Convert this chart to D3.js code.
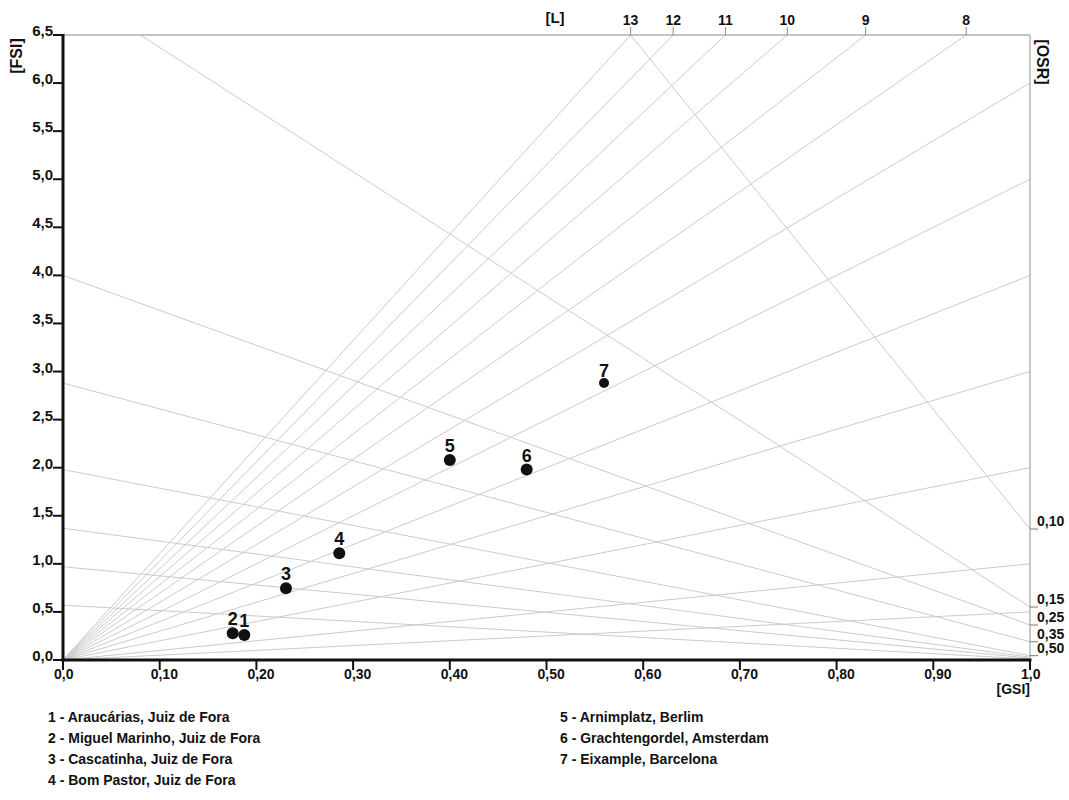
<!DOCTYPE html>
<meta charset="utf-8">
<script src="https://d3js.org/d3.v7.min.js"></script>
<style>
  body { margin: 0; background: #fff; }
  text { font-family: "Liberation Sans", Arial, sans-serif; font-weight: bold; fill: #111; }
</style>
<div id="my_dataviz"></div>
<script>

// ---- data ----
var fsiTicks = [0, 0.5, 1, 1.5, 2, 2.5, 3, 3.5, 4, 4.5, 5, 5.5, 6, 6.5];
var fsiTickLabels = ["0,0", "0,5", "1,0", "1,5", "2,0", "2,5", "3,0", "3,5", "4,0", "4,5", "5,0", "5,5", "6,0", "6,5"];
var gsiTicks = [0, 0.1, 0.2, 0.3, 0.4, 0.5, 0.6, 0.7, 0.8, 0.9, 1];
var gsiTickLabels = ["0,0", "0,10", "0,20", "0,30", "0,40", "0,50", "0,60", "0,70", "0,80", "0,90", "1,0"];

// layer rays (from origin) that hit the top edge
var layerLabels = ["13", "12", "11", "10", "9", "8"];
var layerTopGsi = [0.587, 0.631, 0.685, 0.749, 0.830, 0.934];
// layer rays (from origin) that hit the right edge (GSI = 1)
var edgeRayFsi = [6, 5, 4, 3, 2, 1, 0.5];

// OSR labels on the right edge
var osrLabels = ["0,10", "0,15", "0,25", "0,35", "0,50"];
var osrEdgeFsi = [1.362, 0.551, 0.364, 0.19, 0.045];

// descending OSR lines: start point (gsi, fsi) -> end fsi at GSI = 1
var osrStartGsi = [0.587, 0.08, 0, 0, 0, 0, 0, 0];
var osrStartFsi = [6.5, 6.5, 4.0, 2.88, 1.98, 1.37, 0.97, 0.57];
var osrEndFsi   = [1.362, 0.551, 0.364, 0.19, 0.045, 0.03, 0.02, 0.01];

// sites
var siteNums = ["1", "2", "3", "4", "5", "6", "7"];
var siteGsi = [0.1875, 0.1755, 0.2306, 0.2857, 0.400, 0.4795, 0.5595];
var siteFsi = [0.26, 0.278, 0.746, 1.11, 2.08, 1.98, 2.88];
var siteNames = ["Araucárias, Juiz de Fora", "Miguel Marinho, Juiz de Fora", "Cascatinha, Juiz de Fora",
                 "Bom Pastor, Juiz de Fora", "Arnimplatz, Berlim", "Grachtengordel, Amsterdam", "Eixample, Barcelona"];

// ---- svg ----
var W = 1069, H = 800;
var svg = d3.select("#my_dataviz").append("svg")
    .attr("width", W).attr("height", H);

var x = d3.scaleLinear().domain([0, 1]).range([63, 1030]);
var y = d3.scaleLinear().domain([0, 6.5]).range([660, 35]);

var grid = svg.append("g")
    .attr("stroke", "#cbcbcb")
    .attr("stroke-width", 1)
    .attr("fill", "none");

// rays to top
grid.selectAll(".rayTop")
  .data(layerTopGsi)
  .enter().append("line")
    .attr("x1", x(0)).attr("y1", y(0))
    .attr("x2", function(d) { return x(d); })
    .attr("y2", y(6.5));

// rays to right edge
grid.selectAll(".rayEdge")
  .data(edgeRayFsi)
  .enter().append("line")
    .attr("x1", x(0)).attr("y1", y(0))
    .attr("x2", x(1))
    .attr("y2", function(d) { return y(d); });

// OSR lines
grid.selectAll(".osr")
  .data(osrStartGsi)
  .enter().append("line")
    .attr("x1", function(d) { return x(d); })
    .attr("y1", function(d, i) { return y(osrStartFsi[i]); })
    .attr("x2", x(1))
    .attr("y2", function(d, i) { return y(osrEndFsi[i]); });

// top border + right border
svg.append("line")
    .attr("x1", x(0)).attr("x2", x(1))
    .attr("y1", y(6.5)).attr("y2", y(6.5))
    .attr("stroke", "#8c8c8c").attr("stroke-width", 1.2);
svg.append("line")
    .attr("x1", x(1)).attr("x2", x(1))
    .attr("y1", y(6.5)).attr("y2", y(0))
    .attr("stroke", "#b5b5b5").attr("stroke-width", 1.5);

// top L ticks and labels
var topAxis = svg.append("g");
topAxis.selectAll("line")
  .data(layerTopGsi)
  .enter().append("line")
    .attr("x1", function(d) { return x(d); })
    .attr("x2", function(d) { return x(d); })
    .attr("y1", y(6.5) - 8).attr("y2", y(6.5))
    .attr("stroke", "#8c8c8c");
topAxis.selectAll("text")
  .data(layerLabels)
  .enter().append("text")
    .attr("x", function(d, i) { return x(layerTopGsi[i]); })
    .attr("y", y(6.5) - 10)
    .attr("text-anchor", "middle")
    .style("font-size", "14px")
    .text(function(d) { return d; });
svg.append("text")
    .attr("x", 555).attr("y", 23)
    .attr("text-anchor", "middle")
    .style("font-size", "15px")
    .text("[L]");

// OSR ticks and labels on the right
var rightAxis = svg.append("g");
rightAxis.selectAll("line")
  .data(osrEdgeFsi)
  .enter().append("line")
    .attr("x1", x(1)).attr("x2", x(1) + 8)
    .attr("y1", function(d) { return y(d); })
    .attr("y2", function(d) { return y(d); })
    .attr("stroke", "#777");
rightAxis.selectAll("text")
  .data(osrLabels)
  .enter().append("text")
    .attr("x", x(1) + 7)
    .attr("y", function(d, i) { return y(osrEdgeFsi[i]) - 3; })
    .style("font-size", "14px")
    .text(function(d) { return d; });

// left axis
svg.append("line")
    .attr("x1", x(0)).attr("x2", x(0))
    .attr("y1", y(6.5) - 1).attr("y2", y(0) + 1.5)
    .attr("stroke", "#111").attr("stroke-width", 3);
var leftAxis = svg.append("g");
leftAxis.selectAll("line")
  .data(fsiTicks)
  .enter().append("line")
    .attr("x1", x(0) - 10).attr("x2", x(0))
    .attr("y1", function(d) { return y(d); })
    .attr("y2", function(d) { return y(d); })
    .attr("stroke", "#111").attr("stroke-width", 2);
leftAxis.selectAll("text")
  .data(fsiTickLabels)
  .enter().append("text")
    .attr("x", x(0) - 10)
    .attr("y", function(d, i) { return y(fsiTicks[i]) + 1; })
    .attr("text-anchor", "end")
    .style("font-size", "15px")
    .text(function(d) { return d; });

// bottom axis
svg.append("line")
    .attr("x1", x(0) - 1.5).attr("x2", x(1) + 1.5)
    .attr("y1", y(0)).attr("y2", y(0))
    .attr("stroke", "#111").attr("stroke-width", 3);
var bottomAxis = svg.append("g");
bottomAxis.selectAll("line")
  .data(gsiTicks)
  .enter().append("line")
    .attr("x1", function(d) { return x(d); })
    .attr("x2", function(d) { return x(d); })
    .attr("y1", y(0)).attr("y2", y(0) + 10)
    .attr("stroke", "#111").attr("stroke-width", 2);
bottomAxis.selectAll("text")
  .data(gsiTickLabels)
  .enter().append("text")
    .attr("x", function(d, i) { return x(gsiTicks[i]) - 9; })
    .attr("y", y(0) + 19)
    .style("font-size", "14px")
    .text(function(d) { return d; });

// axis titles
svg.append("text")
    .attr("transform", "translate(22,56) rotate(-90)")
    .attr("text-anchor", "middle")
    .style("font-size", "16px")
    .text("[FSI]");
svg.append("text")
    .attr("transform", "translate(1037,62) rotate(90)")
    .attr("text-anchor", "middle")
    .style("font-size", "16px")
    .text("[OSR]");
svg.append("text")
    .attr("x", 1030).attr("y", 694)
    .attr("text-anchor", "end")
    .style("font-size", "14px")
    .text("[GSI]");

// sites
var sites = svg.append("g");
sites.selectAll("circle")
  .data(siteNums)
  .enter().append("circle")
    .attr("cx", function(d, i) { return x(siteGsi[i]); })
    .attr("cy", function(d, i) { return y(siteFsi[i]); })
    .attr("r", function(d) { return d === "7" ? 5 : 6; })
    .attr("fill", "#111");
sites.selectAll("text")
  .data(siteNums)
  .enter().append("text")
    .attr("x", function(d, i) { return x(siteGsi[i]); })
    .attr("y", function(d, i) { return y(siteFsi[i]) - (d === "7" ? 6 : 8); })
    .attr("text-anchor", "middle")
    .style("font-size", "18px")
    .text(function(d) { return d; });

// legend
var legend = svg.append("g");
legend.selectAll("text")
  .data(siteNames)
  .enter().append("text")
    .attr("x", function(d, i) { return i < 4 ? 48 : 560; })
    .attr("y", function(d, i) { return 722 + (i % 4) * 21; })
    .style("font-size", "14px")
    .text(function(d, i) { return siteNums[i] + " - " + d; });

</script>
